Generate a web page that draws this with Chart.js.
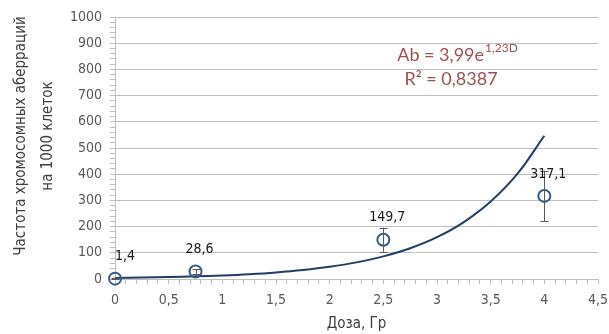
<!DOCTYPE html>
<html>
<head>
<meta charset="utf-8">
<script src="https://cdn.jsdelivr.net/npm/chart.js@4"></script>
<style>
  html, body { margin: 0; padding: 0; background: #fff; }
  #wrap { width: 609px; height: 334px; }
</style>
</head>
<body>
<div id="wrap"><canvas id="chart"></canvas></div>
<script>
// doses (Gy) and aberration frequency per 1000 cells
var doses = [0, 0.75, 2.5, 4];
var freq = [1.4, 28.6, 149.7, 317.1];
var errors = [3, 9, 46, 97];
var pointLabels = ["1,4", "28,6", "149,7", "317,1"];

// exponential trend shown on the chart: Ab = 3,99 e^(1,23 D)
var trendA = 3.99;
var trendB = 1.23;
var trendDoses = [0, 0.25, 0.5, 0.75, 1, 1.25, 1.5, 1.75, 2, 2.25, 2.5, 2.75, 3, 3.25, 3.5, 3.75, 4];

var eqLine1 = "Ab = 3,99e";
var eqSup = "1,23D";
var eqLine2 = "R² = 0,8387";
var yTitle = ["Частота хромосомных аберраций", "на 1000 клеток"];

var fontAxis = "'DejaVu Sans Condensed', 'Liberation Sans', Arial, sans-serif";
var fontEq = "Lato, 'Open Sans', sans-serif";

var pts = doses.map(function(d, i) { return { x: d, y: freq[i] }; });
var trend = trendDoses.map(function(d) { return { x: d, y: trendA * Math.exp(trendB * d) }; });

var extras = {
  id: "extras",
  afterDatasetsDraw: function(chart) {
    var c = chart.ctx, xs = chart.scales.x, ys = chart.scales.y;
    c.save();
    // error bars
    c.strokeStyle = "#595959";
    c.lineWidth = 1;
    doses.forEach(function(d, i) {
      var px = Math.round(xs.getPixelForValue(d)) + 0.5;
      var top = ys.getPixelForValue(freq[i] + errors[i]);
      var bot = ys.getPixelForValue(Math.max(0, freq[i] - errors[i]));
      c.beginPath();
      c.moveTo(px, top); c.lineTo(px, bot);
      c.moveTo(px - 4, Math.round(top) + 0.5); c.lineTo(px + 4, Math.round(top) + 0.5);
      c.moveTo(px - 4, Math.round(bot) + 0.5); c.lineTo(px + 4, Math.round(bot) + 0.5);
      c.stroke();
    });
    // point labels
    c.fillStyle = "#1a1a1a";
    c.font = "14px " + fontAxis;
    c.textAlign = "center";
    c.textBaseline = "middle";
    doses.forEach(function(d, i) {
      var px = xs.getPixelForValue(d), py = ys.getPixelForValue(freq[i]);
      c.fillText(pointLabels[i], px + (i === 0 ? 10 : 4), py - 22);
    });
    // trend equation
    c.fillStyle = "#a0504f";
    c.font = "18px " + fontEq;
    c.textAlign = "left";
    c.textBaseline = "alphabetic";
    var w1 = c.measureText(eqLine1).width;
    c.font = "12px " + fontEq;
    var ws = c.measureText(eqSup).width;
    var x0 = 457 - (w1 + ws) / 2;
    c.font = "18px " + fontEq;
    c.fillText(eqLine1, x0, 61);
    c.font = "12px " + fontEq;
    c.fillText(eqSup, x0 + w1 + 1, 52);
    c.font = "18px " + fontEq;
    c.textAlign = "center";
    c.fillText(eqLine2, 451, 85);
    // y axis title
    c.fillStyle = "#404040";
    c.font = "15px " + fontAxis;
    c.translate(0, 136);
    c.rotate(-Math.PI / 2);
    c.textAlign = "center";
    c.textBaseline = "middle";
    c.fillText(yTitle[0], 0, 21);
    c.fillText(yTitle[1], 0, 48);
    c.restore();
  }
};

new Chart(document.getElementById("chart"), {
  type: "scatter",
  data: {
    datasets: [{
      label: "trend",
      data: trend,
      showLine: true,
      pointRadius: 0,
      borderColor: "#1f3f66",
      borderWidth: 2,
      tension: 0.4,
      clip: false,
      order: 2
    }, {
      label: "data",
      data: pts,
      pointRadius: 6,
      pointBorderWidth: 2,
      pointBackgroundColor: "transparent",
      pointBorderColor: "#2e5d8c",
      clip: false,
      order: 1
    }]
  },
  options: {
    responsive: true,
    maintainAspectRatio: false,
    animation: false,
    layout: { padding: { top: 17, right: 11, left: 62, bottom: 0 } },
    plugins: {
      legend: { display: false },
      tooltip: { enabled: false }
    },
    scales: {
      x: {
        min: 0, max: 4.5,
        afterFit: function(s) { s.height = 55; s.paddingRight = 0; },
        border: { color: "#bfbfbf" },
        grid: {
          drawOnChartArea: false,
          drawTicks: true,
          tickLength: 5,
          tickColor: "#bfbfbf"
        },
        ticks: {
          stepSize: 0.1,
          autoSkip: false,
          maxRotation: 0,
          padding: 8,
          color: "#595959",
          font: { family: fontAxis, size: 14 },
          callback: function(v) {
            var t = Math.round(v * 10);
            if (t % 5 !== 0) return "";
            return String(t / 10).replace(".", ",");
          }
        },
        title: {
          display: true,
          text: "Доза, Гр",
          color: "#404040",
          font: { family: fontAxis, size: 15, lineHeight: 1.0 },
          padding: { top: 0, bottom: 2 }
        }
      },
      y: {
        min: 0, max: 1000,
        border: { color: "#bfbfbf" },
        grid: {
          color: function(ctx) { return ctx.tick && ctx.tick.value % 100 === 0 ? "#bfbfbf" : "transparent"; },
          tickColor: "#bfbfbf",
          tickLength: 5
        },
        ticks: {
          stepSize: 20,
          autoSkip: false,
          padding: 8,
          color: "#595959",
          font: { family: fontAxis, size: 14 },
          callback: function(v) { return v % 100 === 0 ? String(v) : ""; }
        }
      }
    }
  },
  plugins: [extras]
});
</script>
</body>
</html>
